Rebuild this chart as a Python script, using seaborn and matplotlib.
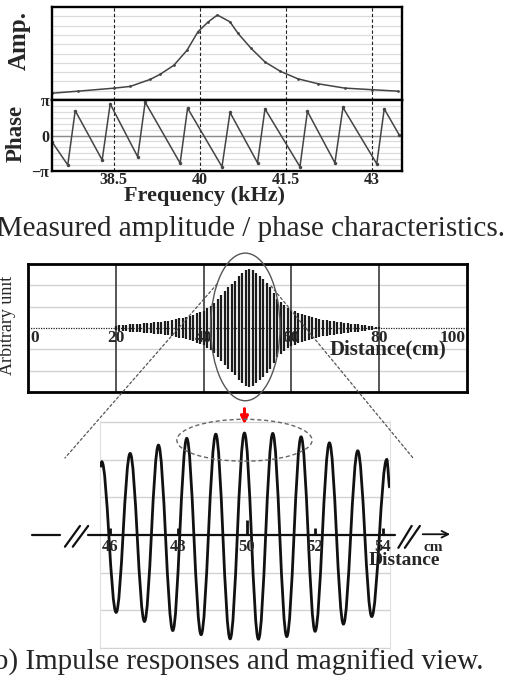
import numpy as np
import matplotlib
matplotlib.use("Agg")
import matplotlib.pyplot as plt
from matplotlib.patches import Ellipse, PathPatch, ConnectionPatch
from matplotlib.path import Path
import seaborn as sns

# ---- (a) measured amplitude / phase characteristics ----
amp_freq = [37.43, 37.88, 38.50, 38.79, 39.14, 39.31, 39.55, 39.78, 39.97, 40.15,
            40.31, 40.53, 40.67, 40.90, 41.14, 41.41, 41.71, 42.06, 42.53, 43.00, 43.46]
amp_val = [0.073, 0.095, 0.127, 0.146, 0.222, 0.276, 0.373, 0.535, 0.733, 0.840,
           0.914, 0.840, 0.716, 0.554, 0.409, 0.308, 0.229, 0.175, 0.128, 0.111, 0.095]

phase_freq = [37.43, 37.70, 37.83, 38.30, 38.44, 38.92, 39.05, 39.66, 39.79, 40.39,
              40.53, 41.01, 41.14, 41.75, 41.88, 42.36, 42.50, 43.09, 43.22, 43.48]
phase_val = [-0.19, -0.83, 0.70, -0.69, 0.89, -0.60, 0.94, -0.78, 0.77, -0.88,
             0.65, -0.77, 0.75, -0.88, 0.68, -0.77, 0.79, -0.80, 0.75, 0.02]  # x pi

freq_ticks = [38.5, 40, 41.5, 43]
freq_labels = ["38.5", "40", "41.5", "43"]

# ---- (b) impulse response: peak amplitude of each oscillation, 20..80 cm ----
burst_amp = [0.08, 0.12, 0.14, 0.16, 0.17, 0.19, 0.20, 0.21, 0.22, 0.23,
             0.24, 0.26, 0.27, 0.29, 0.32, 0.35, 0.38, 0.41, 0.45, 0.48,
             0.52, 0.57, 0.62, 0.68, 0.74, 0.82, 0.92, 1.02, 1.15, 1.36,
             1.55, 1.74, 1.90, 2.05, 2.22, 2.42, 2.58, 2.72, 2.78, 2.70,
             2.58, 2.45, 2.30, 2.10, 1.90, 1.62, 1.38, 1.20, 1.06, 0.95,
             0.86, 0.78, 0.70, 0.64, 0.60, 0.56, 0.52, 0.48, 0.43, 0.39,
             0.36, 0.34, 0.31, 0.29, 0.27, 0.25, 0.23, 0.21, 0.19, 0.17,
             0.15, 0.13, 0.11, 0.09, 0.07, 0.05]
burst_x = np.linspace(20, 80, len(burst_amp))
dist_ticks = [0, 20, 40, 60, 80, 100]

# ---- magnified view: extremes of the waveform (cm, amplitude) ----
zoom_x = [45.71, 45.76, 46.18, 46.59, 47.01, 47.42, 47.84, 48.25, 48.67, 49.10,
          49.52, 49.94, 50.35, 50.77, 51.18, 51.60, 52.01, 52.43, 52.84, 53.26,
          53.67, 54.11, 54.20]
zoom_y = [1.80, 1.94, -2.05, 2.16, -2.29, 2.38, -2.53, 2.56, -2.64, 2.67,
          -2.75, 2.70, -2.76, 2.69, -2.69, 2.60, -2.55, 2.44, -2.36, 2.23,
          -2.16, 2.00, 1.25]
zoom_ticks = [46, 48, 50, 52, 54]

sns.set_theme(style="white")
plt.rcParams["font.family"] = ["Liberation Serif", "DejaVu Serif"]

W, H = 508, 684
fig = plt.figure(figsize=(W / 100, H / 100), dpi=100)


def box(l, t, r, b):
    return fig.add_axes([l / W, 1 - b / H, (r - l) / W, (b - t) / H])


ax_amp = box(52, 7, 402, 100)
ax_ph = box(52, 100, 402, 171)
ax_b = box(28, 264, 467, 392)
ax_m = box(100, 421, 390, 649)

# amplitude
sns.lineplot(x=amp_freq, y=amp_val, ax=ax_amp, color="#444444", lw=1.1,
             marker="o", markersize=2.0, markeredgewidth=0)
ax_amp.set_xlim(37.425, 43.53)
ax_amp.set_ylim(0, 1)
for v in np.arange(0.1, 0.95, 0.1):
    ax_amp.axhline(v, color="#dcdcdc", lw=0.9, zorder=0)

# phase
sns.lineplot(x=phase_freq, y=phase_val, ax=ax_ph, color="#444444", lw=1.1,
             marker="o", markersize=2.5, markeredgewidth=0)
ax_ph.set_xlim(37.425, 43.53)
ax_ph.set_ylim(-1, 1)
for v in np.arange(-5, 6) / 6:
    ax_ph.axhline(v, color="#dcdcdc", lw=0.9, zorder=0)
ax_ph.axhline(0, color="#8a8a8a", lw=1.0, zorder=0.5)

for ax in (ax_amp, ax_ph):
    for f in freq_ticks:
        ax.axvline(f, color="#222222", lw=0.8, ls=(0, (3, 2)), zorder=1)
    for s in ax.spines.values():
        s.set_color("black")
        s.set_linewidth(1.7)
    ax.set_xlabel("")
    ax.set_ylabel("")

ax_amp.set_xticks([])
ax_amp.set_yticks([])
ax_ph.set_xticks(freq_ticks, labels=freq_labels)
ax_ph.set_yticks([-1, 0, 1], labels=["\u2212\u03c0", "0", "\u03c0"])
ax_ph.tick_params(length=0, labelsize=11.5, pad=1)
ax_ph.tick_params(axis="y", pad=2)
for t in ax_ph.get_xticklabels() + ax_ph.get_yticklabels():
    t.set_fontweight("bold")

fig.text(19 / W, 1 - 41 / H, "Amp.", rotation=90, ha="center", va="center",
         fontsize=18, fontweight="bold")
fig.text(16 / W, 1 - 133 / H, "Phase", rotation=90, ha="center", va="center",
         fontsize=16.5, fontweight="bold")
fig.text(205 / W, 1 - 201 / H, "Frequency (kHz)", ha="center", va="baseline",
         fontsize=16, fontweight="bold")
fig.text(505 / W, 1 - 236 / H, "(a) Measured amplitude / phase characteristics.",
         ha="right", va="baseline", fontsize=21)

# ---- impulse response panel ----
ax_b.set_xlim(0, 100)
ax_b.set_ylim(-3, 3)
ax_b.set_xticks([])
ax_b.set_yticks([])
for d in dist_ticks[1:-1]:
    ax_b.axvline(d, color="#3a3a3a", lw=1.2, zorder=1)
for v in [-2, -1, 1, 2]:
    ax_b.axhline(v, color="#d2d2d2", lw=1.0, zorder=0)
ax_b.axhline(0, color="#222222", lw=0.9, ls=(0, (1, 1)), zorder=1)
ax_b.vlines(burst_x, -np.array(burst_amp), np.array(burst_amp),
            color="#1c1c1c", lw=1.6, zorder=2)
for s in ax_b.spines.values():
    s.set_color("black")
    s.set_linewidth(2)
for d in dist_ticks:
    ha = "left" if d == 0 else ("right" if d == 100 else "center")
    xx = d + 0.6 if d == 0 else (d - 0.4 if d == 100 else d)
    ax_b.text(xx, -0.08, str(d), ha=ha, va="top", fontsize=12.5,
              fontweight="bold", zorder=3)
ax_b.text(81.9, -1.0, "Distance(cm)", ha="center", va="center",
          fontsize=15, fontweight="bold", zorder=3)
ax_b.add_patch(Ellipse((49.5, 0.05), 15.8, 6.92, fc="none", ec="#555555",
                       lw=1.0, clip_on=False, zorder=4))
fig.text(8 / W, 1 - 325 / H, "Arbitrary unit", rotation=90, ha="center",
         va="center", fontsize=13)

# ---- magnified view ----
ax_m.set_xlim(45.707, 54.205)
ax_m.set_ylim(-3.02, 3.02)
ax_m.set_xticks([])
ax_m.set_yticks([])
for s in ["top", "bottom"]:
    ax_m.spines[s].set_visible(False)
for s in ["left", "right"]:
    ax_m.spines[s].set_color("#e0e0e0")
    ax_m.spines[s].set_linewidth(0.8)
for v in range(-3, 4):
    if v != 0:
        ax_m.axhline(v, color="#d2d2d2", lw=1.0, zorder=0)

k = 0.364
verts = [(zoom_x[0], zoom_y[0])]
codes = [Path.MOVETO]
for i in range(1, len(zoom_x)):
    x0, y0, x1, y1 = zoom_x[i - 1], zoom_y[i - 1], zoom_x[i], zoom_y[i]
    dx = x1 - x0
    verts += [(x0 + k * dx, y0), (x1 - k * dx, y1), (x1, y1)]
    codes += [Path.CURVE4] * 3
ax_m.add_patch(PathPatch(Path(verts, codes), fc="none", ec="#111111",
                         lw=2.0, zorder=3))

# axis with break marks and arrow
line_kw = dict(color="#111111", lw=1.6, clip_on=False, zorder=4)
ax_m.plot([43.71, 44.53], [0, 0], **line_kw)
ax_m.plot([45.36, 54.35], [0, 0], **line_kw)
ax_m.plot([44.68, 45.12], [-0.31, 0.24], **line_kw)
ax_m.plot([44.91, 45.36], [-0.31, 0.24], **line_kw)
ax_m.plot([54.45, 54.84], [-0.34, 0.24], **line_kw)
ax_m.plot([54.64, 55.08], [-0.34, 0.24], **line_kw)
ax_m.annotate("", xy=(56.05, 0.02), xytext=(55.08, 0.02),
              arrowprops=dict(arrowstyle="->", color="#111111", lw=1.3),
              annotation_clip=False)
tick_h = [0.4 if t == 50 else 0.18 for t in zoom_ticks]
ax_m.vlines(zoom_ticks, 0, tick_h, color="#111111", lw=2.0, zorder=4)
for t in zoom_ticks:
    ax_m.text(t, -0.1, str(t), ha="center", va="top", fontsize=12,
              fontweight="bold", zorder=5)
ax_m.text(55.47, -0.32, "cm", ha="center", va="center", fontsize=11,
          fontweight="bold")
ax_m.text(54.64, -0.68, "Distance", ha="center", va="center", fontsize=14,
          fontweight="bold")

ax_m.add_patch(Ellipse((49.94, 2.51), 3.96, 1.11, fc="none", ec="#666666",
                       lw=1.0, ls=(0, (3, 2)), clip_on=False, zorder=4))
ax_m.annotate("", xy=(49.94, 2.86), xytext=(49.94, 3.42),
              arrowprops=dict(arrowstyle="-|>", color="red", lw=2.2,
                              mutation_scale=11),
              annotation_clip=False)

for a_pt, b_pt in [((43.05, 2.06), (44.68, 2.04)), ((55.35, 1.97), (54.88, 2.04))]:
    con = ConnectionPatch(xyA=a_pt, coordsA=ax_b.transData, xyB=b_pt,
                          coordsB=ax_m.transData, color="#555555", lw=0.9,
                          ls=(0, (2, 2)), zorder=5)
    fig.add_artist(con)

fig.text(483 / W, 1 - 670 / H, "(b) Impulse responses and magnified view.",
         ha="right", va="baseline", fontsize=21)

fig.savefig("out.png", dpi=100)
